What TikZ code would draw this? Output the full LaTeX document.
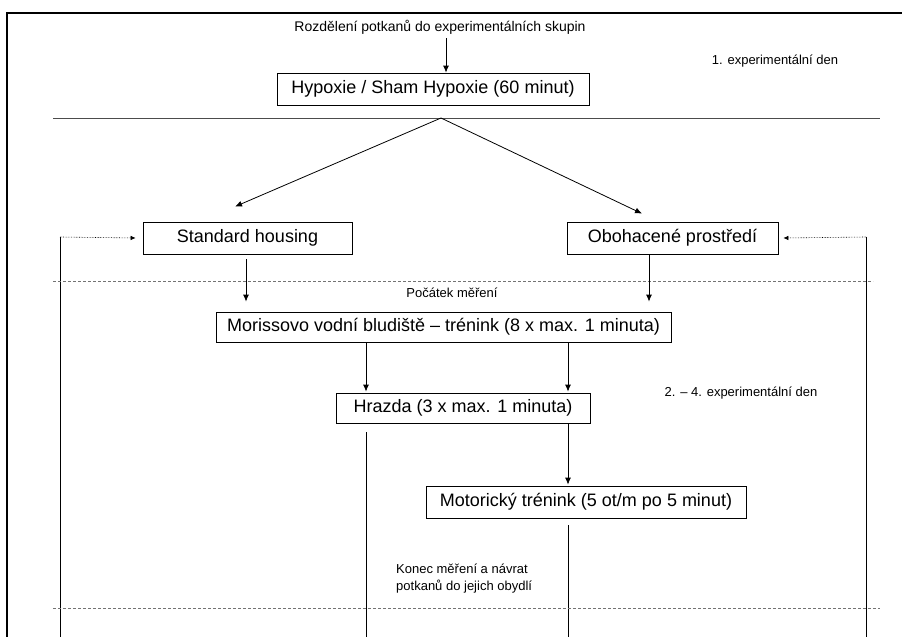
\documentclass[tikz,border=0pt]{standalone}
\usepackage{fontspec}
\setmainfont{Liberation Sans}
\usepackage{tikz}
\usetikzlibrary{arrows.meta}

\begin{document}
\begin{tikzpicture}[x=1pt,y=-1pt,
	box/.style={draw,line width=0.8pt,inner sep=0pt,minimum height=32pt,
	font=\fontsize{18}{20}\selectfont},
	lbl/.style={inner sep=0pt,font=\fontsize{13}{17}\selectfont},
	arr/.style={-{Latex[length=7pt,width=6pt]},line width=0.8pt},
	dotarr/.style={-{Latex[length=5pt,width=4.5pt]},densely dotted,line width=0.6pt},
	sep/.style={black!55,line width=1pt,dash pattern=on 3pt off 2pt}]
\useasboundingbox (0,0) rectangle (902,637);
% frame
\draw[line width=2.2pt] (7,637) -- (7,13) -- (902,13);
\node[lbl,font=\fontsize{14}{16}\selectfont] (title) at (440,27) {Rozdělení potkanů do experimentálních skupin};
\node[box,minimum width=312pt] (hyp) at (433,89) {Hypoxie / Sham Hypoxie (60 minut)};
\node[lbl] (den1) at (775,61) {1. experimentální den};
\draw[arr] (446,38) -- (446,0 |- hyp.north);
\draw[black!70,line width=1pt] (53,118) -- (880,118);
\coordinate (apex) at (441,118);

\node[box,minimum width=209pt] (std) at (247.5,238) {Standard housing};
\node[box,minimum width=211pt] (oboh) at (672.5,238) {Obohacené prostředí};
\draw[arr] (apex) -- ([xshift=-12.5pt,yshift=15pt]std.north);
\draw[arr] (apex) -- ([xshift=-30.5pt,yshift=8pt]oboh.north);

% return lines
\coordinate (retl) at (60,637);
\coordinate (retr) at (866,637);
\draw[line width=0.8pt] (retl) -- (60,237);
\draw[dotarr] (60,237) -- ([xshift=-7pt]std.west);
\draw[line width=0.8pt] (retr) -- (866,237);
\draw[dotarr] (866,237) -- ([xshift=5pt]oboh.east);

\draw[sep] (53,281) -- (873,281);
\node[lbl] (start) at (452,293) {Počátek měření};

\node[box,minimum width=455pt,minimum height=30pt] (mor) at (443.5,327) {Morissovo vodní bludiště – trénink (8 x max. 1 minuta)};
\draw[arr,shorten <=5pt,shorten >=10pt] ([xshift=-1.5pt]std.south) -- ([xshift=-1.5pt]std.south |- mor.north);
\draw[arr,shorten >=10pt] ([xshift=-23.5pt]oboh.south) -- ([xshift=-23.5pt]oboh.south |- mor.north);

\node[box,minimum width=254pt,minimum height=30pt] (hraz) at (463,408) {Hrazda (3 x max. 1 minuta)};
\draw[arr,shorten >=1pt] (366,0 |- mor.south) -- (366,0 |- hraz.north);
\draw[arr,shorten >=1pt] (568,0 |- mor.south) -- (568,0 |- hraz.north);
\node[lbl] (den2) at (741,393) {2. – 4. experimentální den};

\node[box,minimum width=320pt] (mot) at (586,502) {Motorický trénink (5 ot/m po 5 minut)};
\draw[arr,shorten >=1pt] (568,0 |- hraz.south) -- (568,0 |- mot.north);

% end of measuring
\draw[line width=0.8pt] ([yshift=-9pt]366,0 |- hraz.south) -- (366,637);
\draw[line width=0.8pt] ([yshift=-7pt]568,0 |- mot.south) -- (568,637);
\node[lbl,align=left,anchor=north west] (konec) at (396,564) {Konec měření a návrat\\potkanů do jejich obydlí};
\draw[sep] (53,608) -- (880,608);
\end{tikzpicture}
\end{document}
